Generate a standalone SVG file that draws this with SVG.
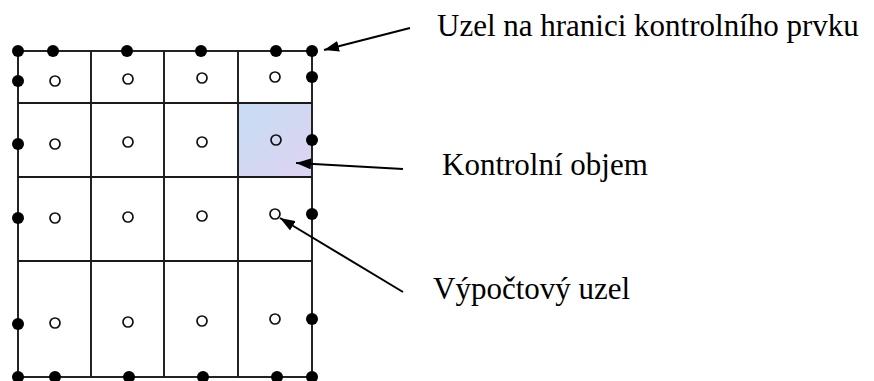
<svg xmlns="http://www.w3.org/2000/svg" width="874" height="381" viewBox="0 0 874 381">
<style>
.grid{fill:none;stroke:#1a1a1a;stroke-width:1.9}
.bnode{fill:#000}
.cnode{fill:none;stroke:#111;stroke-width:1.7}
.lbl{font-family:"Liberation Serif","Times New Roman","DejaVu Serif",serif;font-size:31px;fill:#000}
.conn{stroke:#000;stroke-width:2;fill:none}
</style>
<defs>
<linearGradient id="cvfill" x1="0" y1="0" x2="1" y2="1">
<stop offset="0" stop-color="#c6ddf3"/>
<stop offset="1" stop-color="#ded3f1"/>
</linearGradient>
<marker id="ah" markerUnits="userSpaceOnUse" markerWidth="15" markerHeight="11" refX="15" refY="5.5" orient="auto">
<path d="M0,0 L15,5.5 L0,11 z" fill="#000"/>
</marker>
</defs>
<rect width="874" height="381" fill="#fff"/>
<g id="control-volume">
<rect x="238" y="103" width="74" height="74" fill="url(#cvfill)"/>
</g>
<g id="grid">
<rect class="grid" x="18" y="51" width="294" height="326"/>
<path class="grid" d="M91,51V377M164,51V377M238,51V377M18,103H312M18,177H312M18,261H312"/>
</g>
<g id="boundary-nodes">
<circle class="bnode" cx="18" cy="51" r="6"/>
<circle class="bnode" cx="53" cy="51" r="6"/>
<circle class="bnode" cx="127" cy="51" r="6"/>
<circle class="bnode" cx="201" cy="51" r="6"/>
<circle class="bnode" cx="276" cy="51" r="6"/>
<circle class="bnode" cx="312" cy="51" r="6"/>
<circle class="bnode" cx="18" cy="81" r="6"/>
<circle class="bnode" cx="18" cy="144" r="6"/>
<circle class="bnode" cx="18" cy="218" r="6"/>
<circle class="bnode" cx="18" cy="324" r="6"/>
<circle class="bnode" cx="312" cy="77" r="6"/>
<circle class="bnode" cx="312" cy="140" r="6"/>
<circle class="bnode" cx="312" cy="214" r="6"/>
<circle class="bnode" cx="312" cy="319" r="6"/>
<circle class="bnode" cx="18" cy="377" r="6"/>
<circle class="bnode" cx="55" cy="377" r="6"/>
<circle class="bnode" cx="129" cy="377" r="6"/>
<circle class="bnode" cx="203" cy="377" r="6"/>
<circle class="bnode" cx="277" cy="377" r="6"/>
<circle class="bnode" cx="312" cy="377" r="6"/>
</g>
<g id="compute-nodes">
<circle class="cnode" cx="55" cy="81" r="5"/>
<circle class="cnode" cx="128" cy="79" r="5"/>
<circle class="cnode" cx="202" cy="78" r="5"/>
<circle class="cnode" cx="275" cy="77" r="5"/>
<circle class="cnode" cx="55" cy="144" r="5"/>
<circle class="cnode" cx="128" cy="142" r="5"/>
<circle class="cnode" cx="202" cy="142" r="5"/>
<circle class="cnode" cx="276" cy="140" r="5"/>
<circle class="cnode" cx="55" cy="218" r="5"/>
<circle class="cnode" cx="128" cy="217" r="5"/>
<circle class="cnode" cx="202" cy="216" r="5"/>
<circle class="cnode" cx="275" cy="214" r="5"/>
<circle class="cnode" cx="55" cy="323" r="5"/>
<circle class="cnode" cx="128" cy="322" r="5"/>
<circle class="cnode" cx="202" cy="321" r="5"/>
<circle class="cnode" cx="275" cy="319" r="5"/>
</g>
<g id="connectors">
<line class="conn" x1="410" y1="28" x2="324" y2="50" marker-end="url(#ah)"/>
<line class="conn" x1="403" y1="169" x2="296" y2="163" marker-end="url(#ah)"/>
<line class="conn" x1="403" y1="292" x2="280" y2="218" marker-end="url(#ah)"/>
</g>
<g id="label-boundary-node">
<text class="lbl" x="437" y="36">Uzel na hranici kontrolního prvku</text>
</g>
<g id="label-control-volume">
<text class="lbl" x="442" y="175">Kontrolní objem</text>
</g>
<g id="label-compute-node">
<text class="lbl" x="433" y="299">Výpočtový uzel</text>
</g>
</svg>
